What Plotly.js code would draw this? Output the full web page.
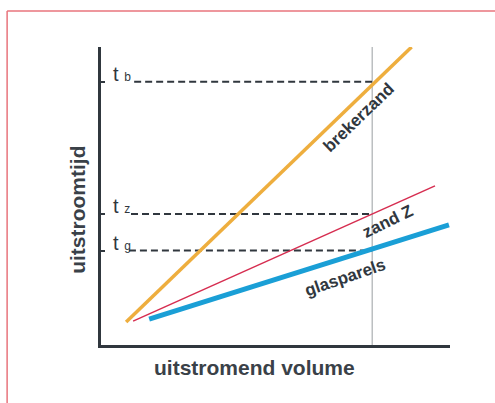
<!DOCTYPE html>
<html>
<head>
<meta charset="utf-8">
<script src="https://cdn.plot.ly/plotly-3.0.1.min.js"></script>
<style>html,body{margin:0;padding:0;background:#fff;}#chart{width:495px;height:403px;}</style>
</head>
<body>
<div id="chart"></div>
<script>
// Schematic data (arbitrary units)
const volumeBreker = [0.72, 8.9];
const tijdBreker   = [0.77, 10.0];
const volumeZand   = [0.92, 9.57];
const tijdZand     = [0.80, 5.34];
const volumeGlas   = [1.38, 9.97];
const tijdGlas     = [0.87, 4.03];
const meetVolume   = 7.77;
const tijdLabels   = ['b', 'z', 'g'];
const tijdWaarden  = [8.83, 4.40, 3.17];
const dashStart    = [0.95, 0.86, 0.80];
const lijnLabels   = ['brekerzand', 'zand Z', 'glasparels'];

const ink = '#30373e';
const traces = [];
// vertical reference line
traces.push({x:[meetVolume, meetVolume], y:[0, 10], mode:'lines', line:{color:'#9a9ea2', width:1}, hoverinfo:'skip'});
// dashed reading lines
tijdWaarden.forEach((t, i) => {
  traces.push({x:[dashStart[i], meetVolume], y:[t, t], mode:'lines', line:{color:ink, width:2, dash:'7px,4px'}, hoverinfo:'skip'});
});
traces.push({x:volumeBreker, y:tijdBreker, mode:'lines', line:{color:'#eeae3e', width:3.5}, name:lijnLabels[0]});
traces.push({x:volumeZand, y:tijdZand, mode:'lines', line:{color:'#d62d50', width:1.5}, name:lijnLabels[1]});
traces.push({x:volumeGlas, y:tijdGlas, mode:'lines', line:{color:'#1a9fd6', width:5}, name:lijnLabels[2]});

const annotations = [];
tijdWaarden.forEach((t, i) => {
  annotations.push({x:0.28, y:t, xref:'x', yref:'y', xanchor:'left', yanchor:'bottom', showarrow:false,
    text:'t <span style="font-size:12px">' + tijdLabels[i] + '</span>',
    font:{family:'Liberation Sans, Arial, sans-serif', size:20, color:ink}, yshift:-5});
});
const lbl = [
  {x:7.38, y:7.65, a:-44},
  {x:8.22, y:4.14, a:-26},
  {x:7.0, y:2.28, a:-19}
];
lbl.forEach((p, i) => {
  annotations.push({x:p.x, y:p.y, xref:'x', yref:'y', showarrow:false, textangle:p.a, text:'<b>' + lijnLabels[i] + '</b>',
    font:{family:'Liberation Sans, Arial, sans-serif', size:17, color:ink}});
});
annotations.push({x:0.441, y:-0.121, xref:'paper', yref:'paper', showarrow:false, text:'<b>uitstromend volume</b>',
  font:{family:'Liberation Sans, Arial, sans-serif', size:21, color:'#3a4148'}});
annotations.push({x:-0.108, y:0.453, xref:'paper', yref:'paper', showarrow:false, textangle:-90, text:'<b>uitstroomtijd</b>',
  font:{family:'Liberation Sans, Arial, sans-serif', size:21, color:'#3a4148'}});

const layout = {
  width:495, height:403,
  margin:{l:101, r:45, t:47, b:58},
  paper_bgcolor:'#fff', plot_bgcolor:'#fff',
  showlegend:false,
  xaxis:{range:[0,10], showgrid:false, zeroline:false, showticklabels:false, ticks:'',
    showline:true, linecolor:ink, linewidth:3},
  yaxis:{range:[0,10], showgrid:false, zeroline:false, showticklabels:false,
    tickvals:tijdWaarden, ticks:'inside', ticklen:4, tickwidth:2, tickcolor:ink,
    showline:true, linecolor:ink, linewidth:3},
  annotations:annotations,
  shapes:[
    {type:'line', xref:'paper', yref:'paper', x0:-0.269, x1:1.2, y0:1.121, y1:1.121, line:{color:'#e8747c', width:1.5}},
    {type:'line', xref:'paper', yref:'paper', x0:-0.269, x1:-0.269, y0:1.121, y1:-0.25, line:{color:'#e8747c', width:1.5}}
  ]
};
Plotly.newPlot('chart', traces, layout, {staticPlot:true, displayModeBar:false});
</script>
</body>
</html>
